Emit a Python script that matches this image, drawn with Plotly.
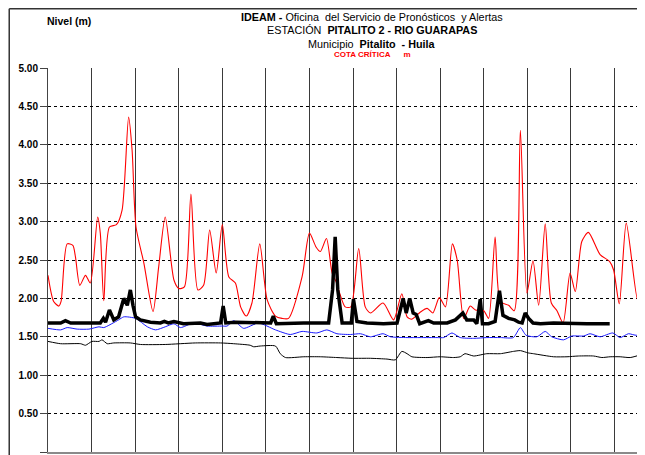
import plotly.graph_objects as go

# dias (cada linea vertical = 1 dia), niveles en metros
dias_max=[0, 0.13, 0.25, 0.30, 0.44, 0.57, 0.63, 0.73, 0.86, 0.97, 1.14, 1.20, 1.28, 1.41, 1.57, 1.70, 1.85, 1.93, 2.02, 2.20,
    2.41, 2.54, 2.69, 2.89, 3.00, 3.13, 3.28, 3.44, 3.57, 3.71, 3.86, 4.00, 4.15, 4.30, 4.42, 4.55, 4.68, 4.86, 5.03, 5.22,
    5.37, 5.52, 5.83, 6.00, 6.15, 6.25, 6.39, 6.52, 6.61, 6.82, 6.95, 7.13, 7.28, 7.40, 7.69, 7.93, 8.12, 8.24, 8.35, 8.54,
    8.70, 8.83, 8.98, 9.12, 9.28, 9.39, 9.54, 9.69, 9.81, 10.00, 10.11, 10.26, 10.38, 10.57, 10.70, 10.84, 10.99, 11.13, 11.26, 11.41,
    11.55, 11.68, 11.82, 11.98, 12.10, 12.25, 12.40, 12.67, 12.89, 12.98, 13.11, 13.27, 13.53, 13.68]
nivel_max=[2.30, 1.96, 1.90, 1.96, 2.71, 2.69, 2.54, 2.17, 2.30, 2.20, 3.06, 2.85, 1.97, 2.93, 2.96, 3.15, 4.36, 3.93, 2.93, 2.46,
    1.83, 2.41, 3.06, 2.24, 2.13, 2.15, 3.36, 2.11, 2.17, 2.89, 2.33, 2.96, 2.28, 2.20, 1.89, 1.77, 1.94, 2.71, 1.98, 1.77,
    1.74, 1.74, 2.28, 2.85, 2.67, 2.61, 2.78, 2.33, 2.22, 1.89, 1.89, 2.65, 1.89, 1.81, 1.94, 1.72, 2.06, 1.76, 1.73, 1.82,
    1.87, 1.81, 2.01, 1.89, 2.71, 2.50, 1.74, 1.90, 1.85, 1.84, 1.74, 2.80, 1.96, 1.91, 1.84, 4.19, 2.07, 2.49, 1.91, 2.97,
    1.94, 1.84, 1.68, 2.33, 2.09, 2.74, 2.86, 2.57, 2.48, 2.37, 1.93, 2.98, 1.98, 2.70]

dias_medio=[0, 0.29, 0.44, 0.67, 0.94, 1.17, 1.28, 1.62, 1.74, 2.01, 2.28, 2.47, 2.69, 2.89, 3.04, 3.34, 3.65, 4.00, 4.11, 4.26,
    4.49, 4.83, 5.22, 5.56, 5.83, 6.17, 6.40, 6.63, 6.94, 7.17, 7.40, 7.69, 7.86, 8.24, 8.54, 8.93, 9.08, 9.27, 9.46, 9.77,
    10.07, 10.38, 10.68, 10.84, 10.97, 11.22, 11.41, 11.56, 11.83, 12.02, 12.29, 12.44, 12.67, 12.96, 13.13, 13.32, 13.51, 13.68]
nivel_medio=[1.61, 1.59, 1.62, 1.60, 1.60, 1.63, 1.62, 1.72, 1.76, 1.74, 1.63, 1.59, 1.63, 1.67, 1.62, 1.68, 1.64, 1.64, 1.64, 1.71,
    1.61, 1.68, 1.59, 1.53, 1.57, 1.55, 1.59, 1.54, 1.53, 1.54, 1.50, 1.54, 1.50, 1.49, 1.49, 1.49, 1.49, 1.55, 1.49, 1.48,
    1.49, 1.49, 1.49, 1.62, 1.52, 1.50, 1.57, 1.50, 1.46, 1.51, 1.51, 1.54, 1.50, 1.55, 1.49, 1.54, 1.52, 1.59]

dias_min=[0, 0.29, 0.75, 0.86, 1.01, 1.17, 1.24, 1.36, 1.51, 1.89, 2.12, 2.69, 3.38, 3.96, 4.26, 4.64, 4.72, 4.87, 5.22, 5.33,
    5.45, 5.87, 6.25, 6.63, 6.98, 7.40, 7.78, 7.97, 8.12, 8.24, 8.35, 8.70, 9.00, 9.31, 9.46, 9.57, 9.77, 10.07, 10.38, 10.68,
    10.84, 11.02, 11.14, 11.60, 11.91, 12.17, 12.52, 12.71, 12.90, 13.13, 13.36, 13.68]
nivel_min=[1.44, 1.41, 1.41, 1.39, 1.44, 1.44, 1.46, 1.41, 1.42, 1.42, 1.40, 1.40, 1.42, 1.42, 1.41, 1.39, 1.37, 1.38, 1.38, 1.28,
    1.23, 1.24, 1.24, 1.23, 1.22, 1.22, 1.21, 1.20, 1.31, 1.28, 1.24, 1.23, 1.24, 1.23, 1.24, 1.28, 1.25, 1.28, 1.28, 1.31,
    1.32, 1.29, 1.28, 1.24, 1.24, 1.25, 1.25, 1.23, 1.24, 1.24, 1.23, 1.28]

dias_actual=[0, 0.29, 0.40, 0.52, 0.97, 1.20, 1.27, 1.32, 1.41, 1.51, 1.62, 1.74, 1.82, 1.89, 1.95, 2.01, 2.12, 2.35, 2.58, 2.67,
    2.76, 2.89, 3.11, 3.42, 3.50, 3.65, 3.96, 4.02, 4.08, 4.30, 4.72, 5.11, 5.17, 5.24, 5.87, 6.17, 6.44, 6.53, 6.59, 6.65, 6.75,
    6.96, 7.01, 7.09, 7.32, 7.70, 8.01, 8.15, 8.22, 8.30, 8.38, 8.45, 8.53, 8.73, 8.85, 9.16, 9.35, 9.52, 9.61, 9.77, 9.84,
    9.92, 9.97, 10.11, 10.26, 10.36, 10.44, 10.57, 10.71, 10.80, 10.88, 10.95, 11.03, 11.13, 11.30, 11.60, 11.98, 12.37, 12.89]
nivel_actual=[1.68, 1.68, 1.71, 1.68, 1.68, 1.68, 1.74, 1.69, 1.85, 1.72, 1.76, 2.00, 1.91, 2.11, 1.91, 1.76, 1.72, 1.69, 1.68, 1.70,
    1.68, 1.70, 1.67, 1.67, 1.68, 1.66, 1.68, 1.90, 1.68, 1.69, 1.68, 1.68, 1.77, 1.67, 1.68, 1.68, 1.68, 2.11, 2.80, 2.11, 1.68,
    1.68, 1.99, 1.70, 1.68, 1.67, 1.68, 2.00, 1.81, 2.00, 1.81, 1.79, 1.67, 1.71, 1.68, 1.68, 1.72, 1.81, 1.72, 1.72, 1.67,
    1.99, 1.67, 1.67, 1.70, 2.10, 1.78, 1.74, 1.72, 1.69, 1.68, 1.81, 1.74, 1.68, 1.67, 1.68, 1.67, 1.67, 1.67]

fig=go.Figure()
fig.add_trace(go.Scatter(x=dias_min, y=nivel_min, mode='lines', line=dict(color='black', width=1, shape='spline', smoothing=0.6)))
fig.add_trace(go.Scatter(x=dias_medio, y=nivel_medio, mode='lines', line=dict(color='#1a1aff', width=1, shape='spline', smoothing=0.6)))
fig.add_trace(go.Scatter(x=dias_max, y=nivel_max, mode='lines', line=dict(color='red', width=1.1, shape='spline', smoothing=0.7)))
fig.add_trace(go.Scatter(x=dias_actual, y=nivel_actual, mode='lines', line=dict(color='black', width=3.5)))

fig.update_xaxes(range=[0, 13.70], dtick=1, tick0=0, showgrid=True, gridcolor='#3a3a3a', gridwidth=1,
    showticklabels=False, zeroline=False, showline=True, linecolor='#8a8a8a', linewidth=2)
fig.update_yaxes(range=[0, 5], dtick=0.5, tickformat='.2f', showgrid=True, gridcolor='black', gridwidth=1, griddash='dot',
    zeroline=False, showline=True, linecolor='#444', linewidth=1, ticks='outside', ticklen=7, tickcolor='#444',
    tickfont=dict(family='Arial', size=10, color='black', weight='bold'))

# la pagina deja 8px de margen al cuerpo: todo se corre 8px
def px_x(sx):
    return (sx-47.5)/597.5
def px_y(sy):
    return (452-sy)/384

titulo=[("<b>IDEAM -</b> Oficina  del Servicio de Pronósticos  y Alertas", 17, 10.8, 'black'),
    ("ESTACIÓN  <b>PITALITO 2 - RIO GUARAPAS</b>", 30, 10.8, 'black'),
    ("Municipio  <b>Pitalito  - Huila</b>", 44, 10.8, 'black'),
    ("<b>COTA CRÍTICA      m</b>", 55, 8, 'red')]
anotaciones=[]
for texto, ypx, tam, col in titulo:
    anotaciones.append(dict(text=texto, x=px_x(372), y=px_y(ypx), xref='paper', yref='paper', showarrow=False,
        xanchor='center', yanchor='middle', font=dict(family='Arial', size=tam, color=col)))
anotaciones.append(dict(text="<b>Nivel (m)</b>", x=px_x(44), y=px_y(21), xref='paper', yref='paper', showarrow=False,
    xanchor='left', yanchor='middle', font=dict(family='Arial', size=10.5, color='black')))

fig.update_layout(width=637, height=447, margin=dict(l=39.5, r=0, t=60, b=3, autoexpand=False), showlegend=False,
    plot_bgcolor='white', paper_bgcolor='white', annotations=anotaciones,
    shapes=[dict(type='line', xref='paper', yref='paper', x0=px_x(8.7), x1=1.1, y0=px_y(8.7), y1=px_y(8.7), line=dict(color='#333', width=1.5)),
        dict(type='line', xref='paper', yref='paper', x0=px_x(8.7), x1=px_x(8.7), y0=-0.1, y1=px_y(8.7), line=dict(color='#333', width=1.5))])

fig.write_html("out.html")
